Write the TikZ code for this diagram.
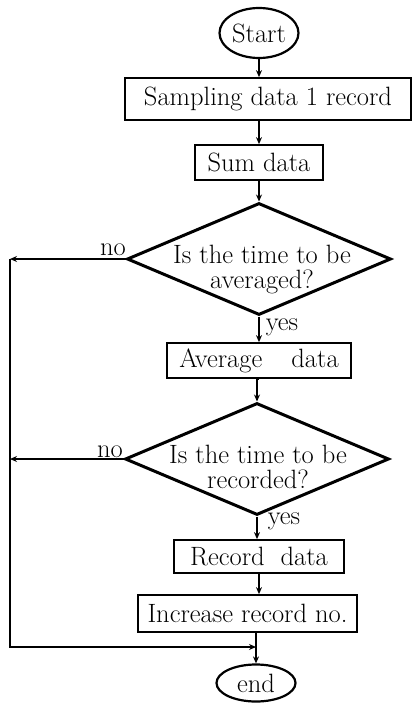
\documentclass[tikz,border=0pt]{standalone}
\usetikzlibrary{shapes.geometric,arrows.meta}
\begin{document}
\begin{tikzpicture}[x=1pt,y=-1pt,
  every node/.style={font=\fontsize{26.5}{25}\selectfont},
  proc/.style={draw,line width=1.7pt,rectangle,inner sep=0pt,minimum height=35pt},
  term/.style={draw,line width=2.2pt,ellipse,inner sep=0pt},
  decide/.style={draw,line width=3pt,diamond,inner sep=0pt,minimum width=264pt,minimum height=112pt},
  arr/.style={line width=1.5pt,-{Stealth[length=7pt,width=6pt]}},
  lbl/.style={inner sep=0pt}]
\useasboundingbox (0,0) rectangle (413,709);
\node[term,minimum width=79pt,minimum height=50pt] (start) at (259,33) {Start};
\node[proc,minimum width=286pt,minimum height=42pt] (box1) at (268,99) {Sampling data 1 record};
\node[proc,minimum width=128pt] (box2) at (259,162.5) {Sum data};
\node[decide] (d1) at (259,259) {};
\node[lbl,align=center] (t1) at (262,270) {Is the time to be\\averaged?};
\node[proc,minimum width=184pt] (box3) at (259,360.5) {Average\hspace{1.1em}data};
\node[decide] (d2) at (257,459) {};
\node[lbl,align=center] (t2) at (258,467) {Is the time to be\\recorded?};
\node[proc,minimum width=170pt,minimum height=33pt] (box4) at (259,556.5) {Record\hspace{0.6em}data};
\node[proc,minimum width=219pt,minimum height=37pt] (box5) at (247.5,613.5) {Increase record no.};
\coordinate (join) at (256,647);
\coordinate (lb) at (10,647);
\node[term,minimum width=79pt,minimum height=37pt] (end) at (256,683) {end};
\node[lbl] (no1) at (113,250) {no};
\node[lbl] (no2) at (110,452) {no};
\node[lbl] (yes1) at (282,327) {yes};
\node[lbl] (yes2) at (284,521) {yes};
\draw[arr] (start.south) -- (start.south |- box1.north);
\draw[arr] (box2.north |- box1.south) -- (box2.north);
\draw[arr] (box2.south) -- (d1.north);
\draw[arr] (d1.south) -- (d1.south |- box3.north);
\draw[arr] (box3.south) -- (box3.south -| d2.north) -- (d2.north);
\draw[arr] (d2.south) -- (d2.south |- box4.north);
\draw[arr] (box4.south) -- (box4.south |- box5.north);
\draw[arr] (d1.west) -- (d1.west -| lb);
\draw[arr] (d2.west) -- (d2.west -| lb);
\draw[arr] (d1.west -| lb) -- (lb) -- (join);
\draw[arr] (box5.south -| join) -- (end.north);
\end{tikzpicture}
\end{document}
